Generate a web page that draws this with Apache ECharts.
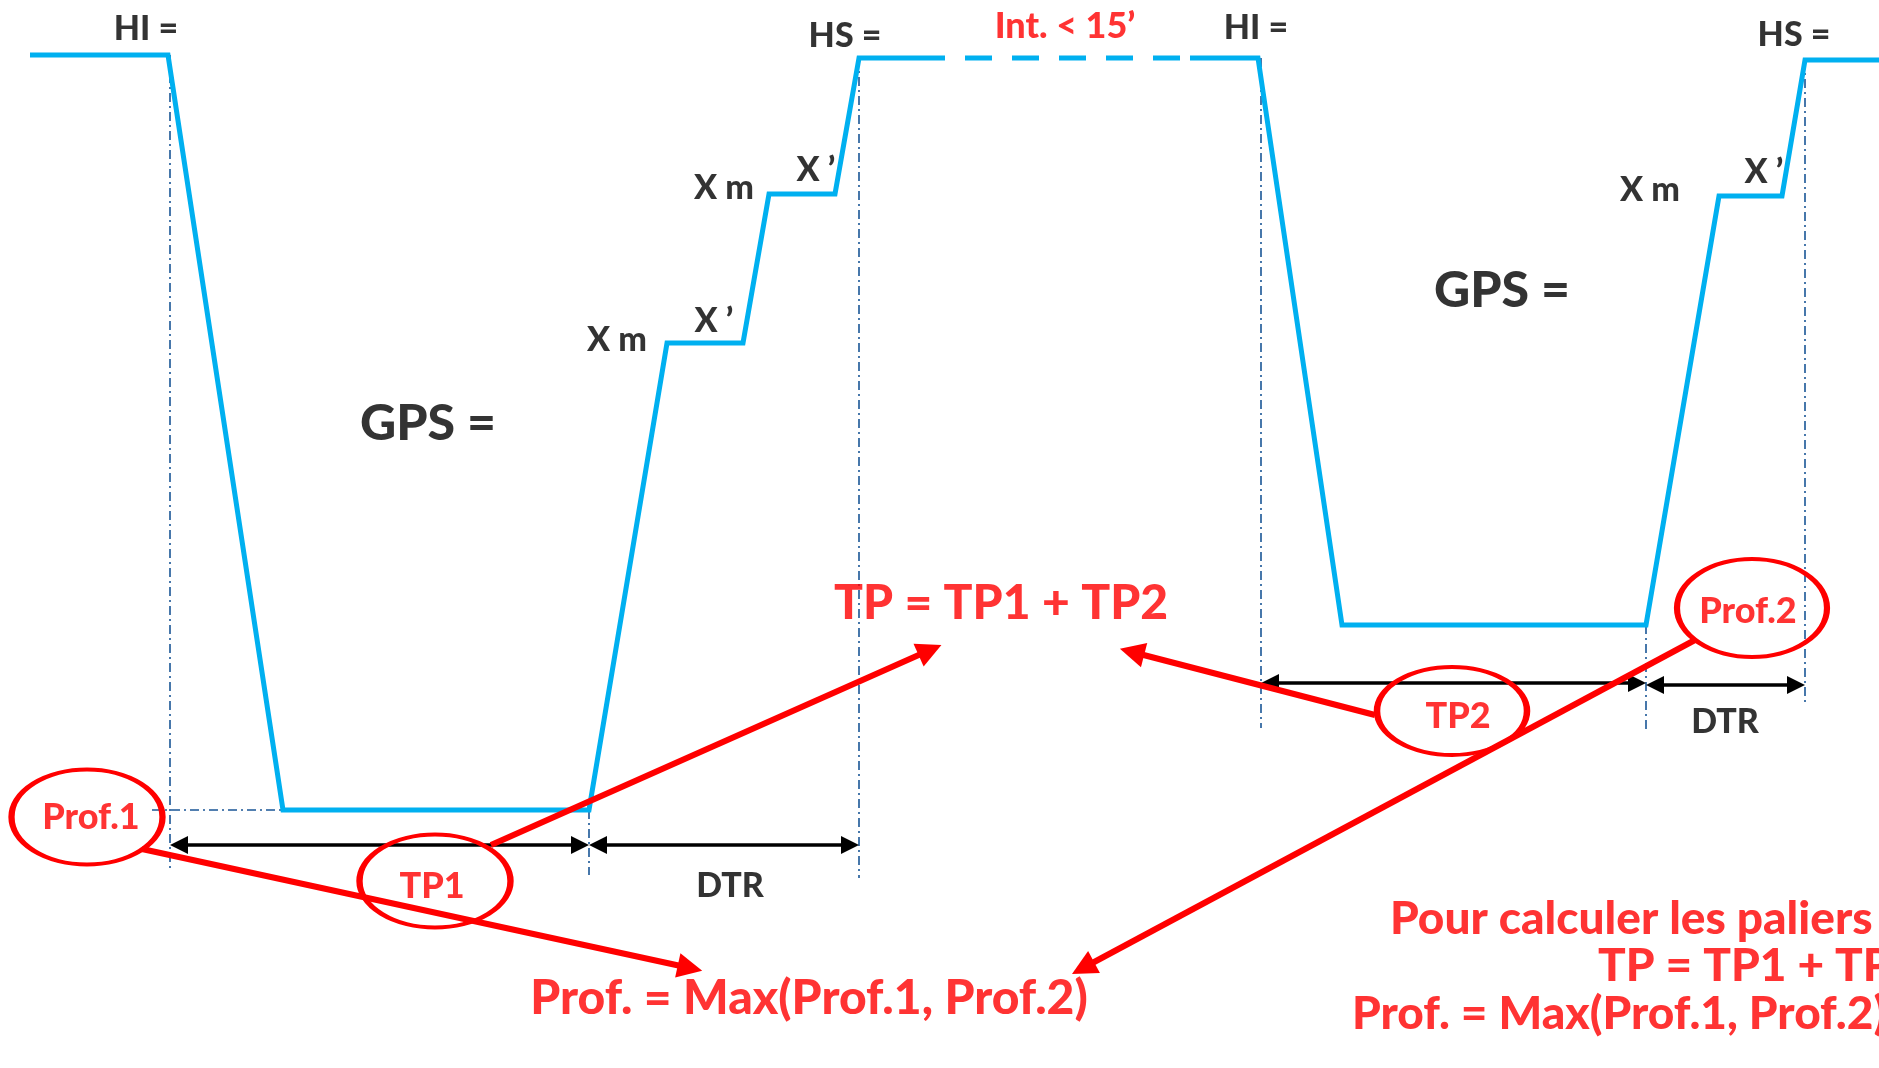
<!DOCTYPE html>
<html><head><meta charset="utf-8">
<script src="https://cdn.jsdelivr.net/npm/echarts/dist/echarts.min.js"></script>
<style>html,body{margin:0;padding:0;background:#fff}#c{width:1879px;height:1068px}</style>
</head><body><div id="c"></div>
<script>
// x = time units, y = depth units (diagram space)
const dive1 = [[30,55],[168,55],[283,810],[589,810],[667,343],[743,343],[769,194],[835,194],[859,58],[945,58]];
const surfaceInterval = [[945,58],[1190,58]];
const dive2 = [[1190,58],[1258,58],[1342,625],[1646,625],[1719,196],[1782,196],[1805,60],[1879,60]];
const guides = [
  [[170,55],[170,872]], [[589,810],[589,875]], [[859,58],[859,878]], [[152,810],[283,810]],
  [[1261,58],[1261,728]], [[1646,625],[1646,730]], [[1805,60],[1805,703]]
];
const spans = [[[179,845],[580,845]], [[598,845],[850,845]], [[1270,683],[1637,683]], [[1655,685],[1796,685]]];
const pointers = [[[142,849],[690,968]], [[491,845],[930,650]], [[1375,715],[1132,652]], [[1695,640],[1083,968]]];
const bubbleNames = ['Prof.1','TP1','TP2','Prof.2'];
const bubbleCenters = [[87,817],[435,881],[1452,711],[1752,608]];
const bubbleLabelPos = [[91,817],[432,886],[1458,716],[1748,611]];
const markText = ['HI =','HS =','HI =','HS =','X m','X ’','X m','X ’','X m','X ’','DTR','DTR'];
const markPos = [[146,29],[845,36],[1256,28],[1794,35],[617,340],[714,321],[724,188],[816,170],[1650,190],[1764,172],[730,886],[1725,722]];
const gpsText = ['GPS =','GPS ='];
const gpsPos = [[428,424],[1502,291]];
const noteText = ['Int. < 15’','TP = TP1 + TP2','Prof. = Max(Prof.1, Prof.2)'];
const notePos = [[1065,26],[1001,604],[809,999]];
const summaryText = ['Pour calculer les paliers :','TP = TP1 + TP2','Prof. = Max(Prof.1, Prof.2)'];
const summaryPos = [[1390,919],[1598,966],[1352,1014]];

const BLUE = '#00B0F0', RED = '#FF0000', GUIDE = '#1A5696';
const bubbleSizes = [[151,95],[151,93],[150,88],[150,98]];
const FONT = 'Lato';

function textSeries(texts, pos, color, size, align, z) {
  return {
    type: 'scatter', symbolSize: 0, silent: true, z: z || 10,
    data: texts.map((t, i) => ({ value: pos[i], name: t })),
    label: {
      show: true, position: 'inside', formatter: p => p.name,
      color: color, fontFamily: FONT, fontWeight: 900, fontSize: size,
      align: align || 'center', verticalAlign: 'middle', textBorderWidth: 0
    }
  };
}

const chart = echarts.init(document.getElementById('c'), null, { renderer: 'canvas' });
const noteSeries = textSeries(noteText, notePos, RED, 48, 'center', 12);
noteSeries.data[0].label = { fontSize: 36 };

chart.setOption({
  animation: false,
  backgroundColor: '#ffffff',
  grid: { left: 0, right: 0, top: 0, bottom: 0, containLabel: false },
  xAxis: { type: 'value', min: 0, max: 1879, show: false },
  yAxis: { type: 'value', min: 0, max: 1068, inverse: true, show: false },
  series: [
    { type: 'lines', coordinateSystem: 'cartesian2d', silent: true, z: 1,
      data: guides.map(c => ({ coords: c })),
      lineStyle: { color: GUIDE, width: 1.6, type: [9, 4, 2, 4], opacity: 1 } },
    { type: 'line', data: dive1, symbol: 'none', silent: true, clip: false, z: 3,
      lineStyle: { color: BLUE, width: 5, join: 'miter' } },
    { type: 'line', data: surfaceInterval, symbol: 'none', silent: true, clip: false, z: 3,
      lineStyle: { color: BLUE, width: 5, type: [27, 20], dashOffset: 27 } },
    { type: 'line', data: dive2, symbol: 'none', silent: true, clip: false, z: 3,
      lineStyle: { color: BLUE, width: 5, join: 'miter' } },
    { type: 'lines', coordinateSystem: 'cartesian2d', silent: true, z: 4,
      data: spans.map(c => ({ coords: c })),
      symbol: ['triangle', 'triangle'], symbolSize: 18,
      lineStyle: { color: '#000000', width: 3.5, opacity: 1 } },
    { type: 'lines', coordinateSystem: 'cartesian2d', silent: true, z: 5,
      data: pointers.map(c => ({ coords: c })),
      symbol: ['none', 'triangle'], symbolSize: 25,
      lineStyle: { color: RED, width: 6, opacity: 1 } },
    { type: 'scatter', silent: true, z: 6, symbol: 'circle',
      data: bubbleCenters.map((c, i) => ({ value: c, symbolSize: bubbleSizes[i] })),
      itemStyle: { color: 'rgba(0,0,0,0)', borderColor: RED, borderWidth: 5, opacity: 1 } },
    textSeries(bubbleNames, bubbleLabelPos, RED, 36, 'center', 11),
    textSeries(markText, markPos, '#000000', 34, 'center', 11),
    textSeries(gpsText, gpsPos, '#000000', 50, 'center', 11),
    noteSeries,
    textSeries(summaryText, summaryPos, RED, 46, 'left', 12)
  ]
});
</script></body></html>
